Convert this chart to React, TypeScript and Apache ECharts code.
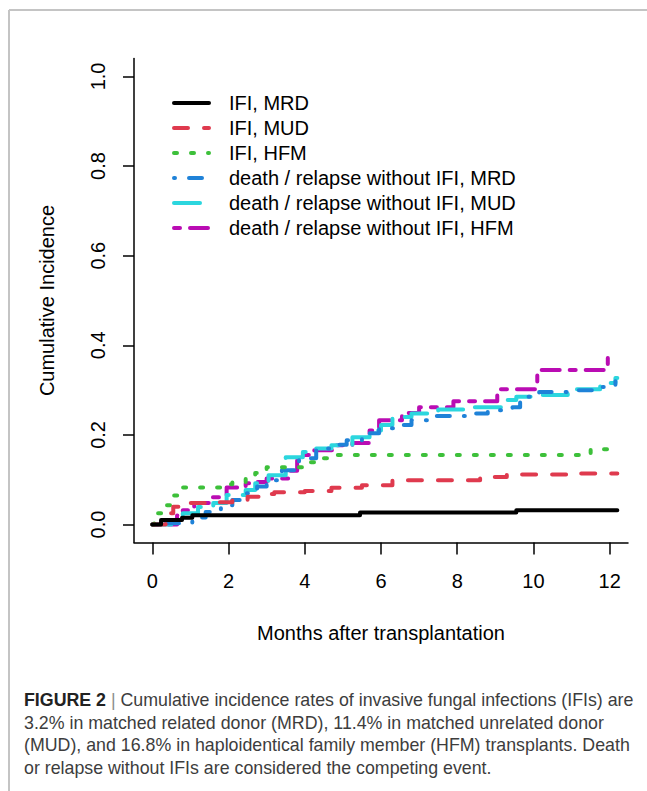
import React, { useEffect, useRef } from "react";
import * as echarts from "echarts";

// ---- data (months after transplantation, cumulative incidence) ----
const ifiMrdX = [0, 0.23, 0.78, 1.05, 5.45, 9.55, 12.2];
const ifiMrdY = [0, 0.01, 0.015, 0.021, 0.027, 0.032, 0.032];

const ifiMudX = [0, 0.35, 0.45, 0.55, 0.7, 1.6, 2.1, 2.5, 2.9, 3.2, 4.0, 4.7, 5.5, 6.3, 8.6, 9.3, 10.9, 12.2];
const ifiMudY = [0, 0.01, 0.025, 0.04, 0.048, 0.05, 0.055, 0.062, 0.068, 0.072, 0.075, 0.082, 0.088, 0.099, 0.106, 0.112, 0.114, 0.114];

const ifiHfmX = [0, 0.05, 0.3, 0.55, 0.7, 1.8, 2.1, 2.45, 2.7, 3.0, 4.1, 4.45, 4.65, 11.5, 12.2];
const ifiHfmY = [0, 0.025, 0.043, 0.065, 0.083, 0.09, 0.095, 0.106, 0.115, 0.128, 0.139, 0.148, 0.155, 0.168, 0.168];

const drMrdX = [0, 0.35, 1.05, 1.4, 1.8, 2.1, 2.45, 2.75, 3.0, 3.4, 3.85, 4.3, 4.7, 5.1, 5.5, 5.95, 6.5, 6.8, 7.4, 8.45, 8.8, 9.45, 9.65, 10.15, 11.0, 11.55, 12.15];
const drMrdY = [0, 0.003, 0.016, 0.028, 0.043, 0.055, 0.07, 0.085, 0.099, 0.121, 0.148, 0.17, 0.178, 0.188, 0.204, 0.215, 0.222, 0.233, 0.242, 0.248, 0.255, 0.262, 0.285, 0.296, 0.3, 0.307, 0.32];

const drMudX = [0, 0.5, 0.8, 1.2, 1.6, 1.95, 2.45, 2.7, 3.05, 3.5, 3.95, 4.3, 4.7, 5.25, 5.7, 6.0, 6.3, 6.8, 7.5, 8.35, 9.2, 9.55, 10.1, 10.9, 11.75, 12.15, 12.2];
const drMudY = [0, 0.01, 0.025, 0.039, 0.048, 0.066, 0.077, 0.092, 0.11, 0.15, 0.162, 0.17, 0.177, 0.195, 0.21, 0.222, 0.24, 0.248, 0.257, 0.262, 0.278, 0.285, 0.289, 0.302, 0.316, 0.327, 0.327];

const drHfmX = [0, 0.65, 0.8, 1.1, 1.5, 1.95, 2.45, 2.6, 3.0, 3.6, 3.8, 3.95, 4.25, 4.8, 5.25, 5.7, 5.95, 6.55, 7.0, 7.9, 9.05, 10.1, 11.95, 12.0];
const drHfmY = [0, 0.02, 0.032, 0.048, 0.061, 0.083, 0.092, 0.095, 0.103, 0.12, 0.143, 0.155, 0.166, 0.177, 0.182, 0.21, 0.233, 0.249, 0.262, 0.275, 0.302, 0.345, 0.372, 0.372];

const seriesNames = [
  "IFI, MRD",
  "IFI, MUD",
  "IFI, HFM",
  "death / relapse without IFI, MRD",
  "death / relapse without IFI, MUD",
  "death / relapse without IFI, HFM",
];

const xTicks = [0, 2, 4, 6, 8, 10, 12];
const yTicks = [0, 0.2, 0.4, 0.6, 0.8, 1.0];

const captionLines = [
  "{b|FIGURE 2} {s||} Cumulative incidence rates of invasive fungal infections (IFIs) are",
  "3.2% in matched related donor (MRD), 11.4% in matched unrelated donor",
  "(MUD), and 16.8% in haploidentical family member (HFM) transplants. Death",
  "or relapse without IFIs are considered the competing event.",
];

const FONT = "'Liberation Sans', Arial, Helvetica, sans-serif";

function zip(xs: number[], ys: number[]) {
  return xs.map((x, i) => [x, ys[i]]);
}

export default function App() {
  const ref = useRef<HTMLDivElement>(null);

  useEffect(() => {
    if (!ref.current) return;
    const chart = echarts.init(ref.current, undefined, { renderer: "svg" });

    const styles: { color: string; dash: number[] | null }[] = [
      { color: "#000000", dash: null },
      { color: "#DF3A4E", dash: [14, 16] },
      { color: "#3DC03A", dash: [3, 14] },
      { color: "#1F82D8", dash: [1, 14, 13, 14] },
      { color: "#2CD6DE", dash: [26, 14] },
      { color: "#BA0CB3", dash: [6, 10, 18, 10] },
    ];
    const datas = [
      zip(ifiMrdX, ifiMrdY),
      zip(ifiMudX, ifiMudY),
      zip(ifiHfmX, ifiHfmY),
      zip(drMrdX, drMrdY),
      zip(drMudX, drMudY),
      zip(drHfmX, drHfmY),
    ];

    const series = seriesNames.map((name, i) => ({
      name,
      type: "line",
      step: "end",
      symbol: "none",
      data: datas[i],
      z: 10 - i,
      lineStyle: {
        color: styles[i].color,
        width: 4,
        type: styles[i].dash ? styles[i].dash : "solid",
        cap: "round",
        join: "round",
      },
      itemStyle: { color: styles[i].color },
    }));

    const legendTop = 103;
    const legendStep = 25;
    const legendGraphics: any[] = [];
    seriesNames.forEach((name, i) => {
      const y = legendTop + i * legendStep;
      legendGraphics.push({
        type: "line",
        silent: true,
        shape: { x1: 174, y1: y, x2: 209, y2: y },
        style: {
          stroke: styles[i].color,
          lineWidth: 4,
          lineCap: "round",
          lineDash: styles[i].dash || null,
        },
        z: 100,
      });
      legendGraphics.push({
        type: "text",
        silent: true,
        x: 229,
        y,
        style: {
          text: name,
          fontFamily: FONT,
          fontSize: 20,
          fill: "#000",
          verticalAlign: "middle",
          align: "left",
        },
        z: 100,
      });
    });

    chart.setOption({
      animation: false,
      backgroundColor: "#ffffff",
      grid: { left: 134, right: 19, top: 58.5, bottom: 248.5, containLabel: false },
      xAxis: {
        type: "value",
        min: -0.48,
        max: 12.48,
        name: "Months after transplantation",
        nameLocation: "middle",
        nameGap: 80,
        nameTextStyle: { fontFamily: FONT, fontSize: 20, color: "#000" },
        axisLine: { show: true, onZero: false, lineStyle: { color: "#000", width: 1.5 } },
        axisTick: { show: true, length: 12, customValues: xTicks, lineStyle: { color: "#000", width: 1.5 } },
        axisLabel: {
          customValues: xTicks,
          margin: 28,
          fontFamily: FONT,
          fontSize: 20,
          color: "#000",
          formatter: (v: number) => String(v),
        },
        splitLine: { show: false },
      },
      yAxis: {
        type: "value",
        min: -0.04,
        max: 1.04,
        name: "Cumulative Incidence",
        nameLocation: "middle",
        nameRotate: 90,
        nameGap: 77,
        nameTextStyle: { fontFamily: FONT, fontSize: 20, color: "#000" },
        axisLine: { show: true, onZero: false, lineStyle: { color: "#000", width: 1.5 } },
        axisTick: { show: true, length: 11, customValues: yTicks, lineStyle: { color: "#000", width: 1.5 } },
        axisLabel: {
          customValues: yTicks,
          rotate: 90,
          margin: 26,
          fontFamily: FONT,
          fontSize: 20,
          color: "#000",
          formatter: (v: number) => v.toFixed(1),
        },
        splitLine: { show: false },
      },
      graphic: [
        {
          type: "line",
          shape: { x1: 9, y1: 10, x2: 660, y2: 10 },
          style: { stroke: "#c4c4c4", lineWidth: 2 },
          silent: true,
        },
        {
          type: "line",
          shape: { x1: 9, y1: 10, x2: 9, y2: 800 },
          style: { stroke: "#c4c4c4", lineWidth: 2 },
          silent: true,
        },
        ...legendGraphics,
        {
          type: "text",
          x: 24,
          y: 689,
          silent: true,
          style: {
            text: captionLines.join("\n"),
            fontFamily: FONT,
            fontSize: 17.8,
            lineHeight: 22.5,
            fill: "#3d3d3d",
            verticalAlign: "top",
            align: "left",
            rich: {
              b: { fontWeight: "bold", fill: "#222222", fontSize: 17.8, fontFamily: FONT, lineHeight: 22.5 },
              s: { fill: "#8c8c8c", fontSize: 17.8, fontFamily: FONT, lineHeight: 22.5 },
            },
          },
        },
      ],
      series,
    });

    return () => chart.dispose();
  }, []);

  return (
    <div
      ref={ref}
      style={{ position: "absolute", left: 0, top: 0, width: 647, height: 791 }}
    />
  );
}
